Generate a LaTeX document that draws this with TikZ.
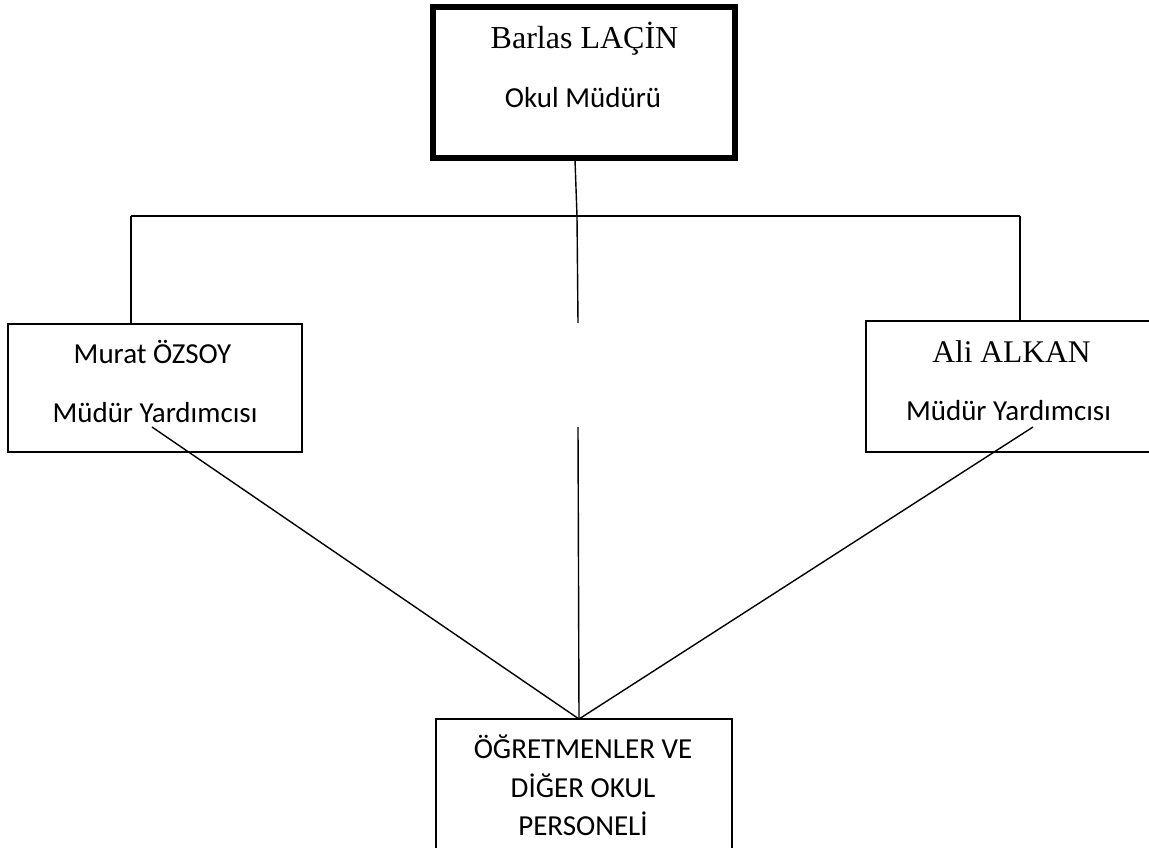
\documentclass[tikz,border=0pt]{standalone}
\usepackage{fontspec}
\setmainfont{Carlito}
\newfontfamily\serifname{Liberation Serif}
\begin{document}
\begin{tikzpicture}[x=1pt,y=-1pt,
  box/.style={draw=black,line width=1.4pt,minimum width=#1,inner sep=0pt},
  thickbox/.style={draw=black,line width=6pt,inner sep=0pt,minimum width=302pt,minimum height=151pt},
  conn/.style={draw=black,line width=1.4pt},
  lbl/.style={anchor=base,inner sep=0pt,font=\fontsize{29}{35}\selectfont},
  namelbl/.style={anchor=base,inner sep=0pt,font=\serifname\fontsize{32}{38}\selectfont}]
\useasboundingbox (0,0) rectangle (1149,847);
\fill[white] (0,0) rectangle (1149,847);
% boxes
\node[thickbox] (top) at (584,82) {};
\node[box=294pt,minimum height=128pt] (left) at (155,388) {};
\node[box=294pt,minimum height=131pt] (right) at (1013,386.5) {};
\node[box=296pt,minimum height=200pt] (bottom) at (584,819) {};
% texts
\node[namelbl] (t1) at (584.5,48) {Barlas LAÇİN};
\node[lbl] (t2) at (583,107) {Okul Müdürü};
\node[lbl] (l1) at (152.5,363) {Murat ÖZSOY};
\node[lbl] (l2) at (155,422) {Müdür Yardımcısı};
\node[namelbl,font=\serifname\fontsize{31.5}{38}\selectfont] (r1) at (1011.5,362) {Ali ALKAN};
\node[lbl] (r2) at (1008.5,420) {Müdür Yardımcısı};
\node[lbl] (b1) at (583,758) {ÖĞRETMENLER VE};
\node[lbl] (b2) at (583,797) {DİĞER OKUL};
\node[lbl] (b3) at (583,835) {PERSONELİ};
% connector points
\coordinate (topfoot) at (575,160);
\coordinate (junction) at (577,216);
\coordinate (hl) at (131,216);
\coordinate (hr) at (1020,216);
\coordinate (ltop) at (131,324);
\coordinate (rtop) at (1020,321);
\coordinate (midend) at (578,323);
\coordinate (midstart) at (578,427);
\coordinate (meet) at (579,719);
\coordinate (lstart) at (152,427);
\coordinate (rstart) at (1033,427);
% connectors
\draw[conn] (topfoot) -- (junction);
\draw[conn] (hl) -- (hr);
\draw[conn] (hl) -- (ltop);
\draw[conn] (hr) -- (rtop);
\draw[conn] (junction) -- (midend);
\draw[conn] (midstart) -- (meet);
\draw[conn] (lstart) -- (meet);
\draw[conn] (rstart) -- (meet);
\end{tikzpicture}
\end{document}
